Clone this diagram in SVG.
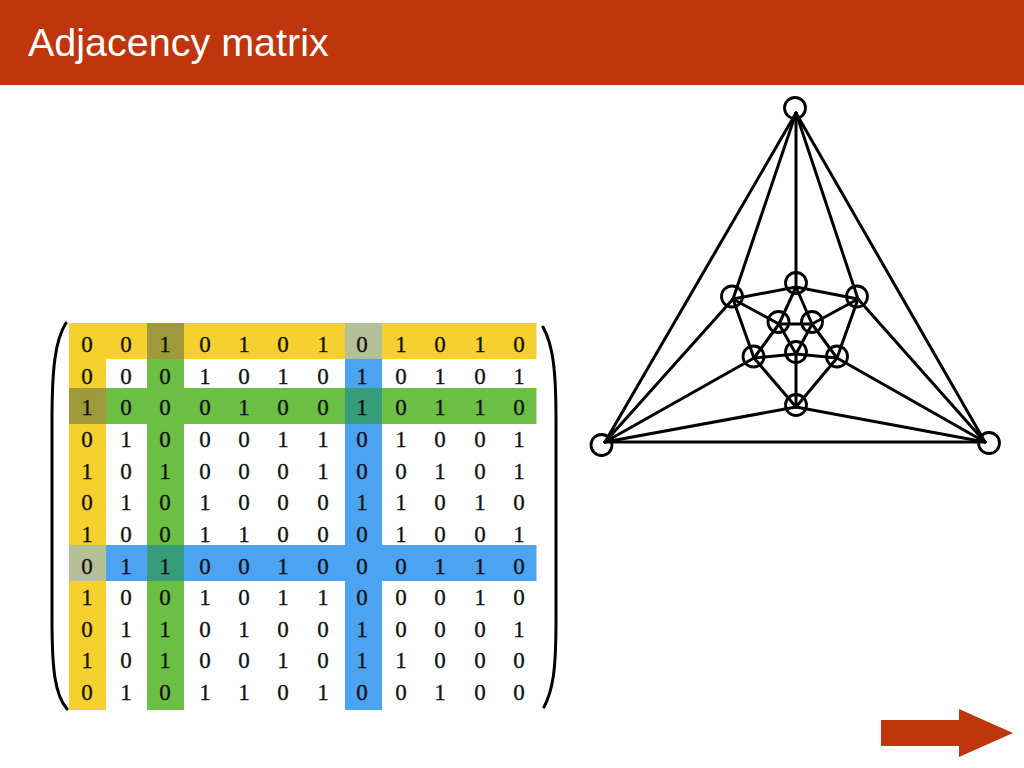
<svg xmlns="http://www.w3.org/2000/svg" width="1024" height="768" viewBox="0 0 1024 768">
<style>
.title{font-family:"Liberation Sans",Arial,sans-serif;font-size:39.5px;fill:#ffffff}
.d{font-family:"Liberation Serif","DejaVu Serif",serif;font-size:23px;fill:#111111;text-anchor:middle;stroke:#111111;stroke-width:0.3}
.paren{fill:none;stroke:#000000;stroke-width:3;stroke-linecap:round}
.edge{stroke:#000000;stroke-width:3;stroke-linecap:round}
.node circle{fill:none;stroke:#000000;stroke-width:2.8}
</style>
<rect width="1024" height="768" fill="#ffffff"/>
<g id="title-bar">
<rect x="0" y="0" width="1024" height="85" fill="#BF360C"/>
<text class="title" x="28" y="56">Adjacency matrix</text>
</g>
<g id="matrix">
<rect x="69" y="323" width="467.5" height="36" fill="#F5D02E"/>
<rect x="69" y="388" width="467.5" height="36" fill="#6BBF44"/>
<rect x="69" y="545" width="467.5" height="36" fill="#4CA3F2"/>
<rect x="69" y="323" width="37" height="387" fill="#F5D02E"/>
<rect x="147" y="323" width="37" height="387" fill="#6BBF44"/>
<rect x="345" y="323" width="37" height="387" fill="#4CA3F2"/>
<rect x="147" y="323" width="37" height="36" fill="#9C9A3A"/>
<rect x="69" y="388" width="37" height="36" fill="#9C9A3A"/>
<rect x="345" y="323" width="37" height="36" fill="#B5BF98"/>
<rect x="69" y="545" width="37" height="36" fill="#B5BF98"/>
<rect x="345" y="388" width="37" height="36" fill="#379C7A"/>
<rect x="147" y="545" width="37" height="36" fill="#379C7A"/>
<path class="paren" d="M66,323 C55,340 52,370 52,420 L52,620 C52,670 55,695 67,709"/>
<path class="paren" d="M543,327 C553,345 556,370 556,420 L556,620 C556,670 553,690 544,707"/>
<text class="d" y="352"><tspan x="87">0</tspan><tspan x="126">0</tspan><tspan x="165">1</tspan><tspan x="205">0</tspan><tspan x="244">1</tspan><tspan x="283">0</tspan><tspan x="323">1</tspan><tspan x="362">0</tspan><tspan x="401">1</tspan><tspan x="440">0</tspan><tspan x="480">1</tspan><tspan x="519">0</tspan></text>
<text class="d" y="384"><tspan x="87">0</tspan><tspan x="126">0</tspan><tspan x="165">0</tspan><tspan x="205">1</tspan><tspan x="244">0</tspan><tspan x="283">1</tspan><tspan x="323">0</tspan><tspan x="362">1</tspan><tspan x="401">0</tspan><tspan x="440">1</tspan><tspan x="480">0</tspan><tspan x="519">1</tspan></text>
<text class="d" y="415"><tspan x="87">1</tspan><tspan x="126">0</tspan><tspan x="165">0</tspan><tspan x="205">0</tspan><tspan x="244">1</tspan><tspan x="283">0</tspan><tspan x="323">0</tspan><tspan x="362">1</tspan><tspan x="401">0</tspan><tspan x="440">1</tspan><tspan x="480">1</tspan><tspan x="519">0</tspan></text>
<text class="d" y="447"><tspan x="87">0</tspan><tspan x="126">1</tspan><tspan x="165">0</tspan><tspan x="205">0</tspan><tspan x="244">0</tspan><tspan x="283">1</tspan><tspan x="323">1</tspan><tspan x="362">0</tspan><tspan x="401">1</tspan><tspan x="440">0</tspan><tspan x="480">0</tspan><tspan x="519">1</tspan></text>
<text class="d" y="479"><tspan x="87">1</tspan><tspan x="126">0</tspan><tspan x="165">1</tspan><tspan x="205">0</tspan><tspan x="244">0</tspan><tspan x="283">0</tspan><tspan x="323">1</tspan><tspan x="362">0</tspan><tspan x="401">0</tspan><tspan x="440">1</tspan><tspan x="480">0</tspan><tspan x="519">1</tspan></text>
<text class="d" y="510"><tspan x="87">0</tspan><tspan x="126">1</tspan><tspan x="165">0</tspan><tspan x="205">1</tspan><tspan x="244">0</tspan><tspan x="283">0</tspan><tspan x="323">0</tspan><tspan x="362">1</tspan><tspan x="401">1</tspan><tspan x="440">0</tspan><tspan x="480">1</tspan><tspan x="519">0</tspan></text>
<text class="d" y="542"><tspan x="87">1</tspan><tspan x="126">0</tspan><tspan x="165">0</tspan><tspan x="205">1</tspan><tspan x="244">1</tspan><tspan x="283">0</tspan><tspan x="323">0</tspan><tspan x="362">0</tspan><tspan x="401">1</tspan><tspan x="440">0</tspan><tspan x="480">0</tspan><tspan x="519">1</tspan></text>
<text class="d" y="574"><tspan x="87">0</tspan><tspan x="126">1</tspan><tspan x="165">1</tspan><tspan x="205">0</tspan><tspan x="244">0</tspan><tspan x="283">1</tspan><tspan x="323">0</tspan><tspan x="362">0</tspan><tspan x="401">0</tspan><tspan x="440">1</tspan><tspan x="480">1</tspan><tspan x="519">0</tspan></text>
<text class="d" y="605"><tspan x="87">1</tspan><tspan x="126">0</tspan><tspan x="165">0</tspan><tspan x="205">1</tspan><tspan x="244">0</tspan><tspan x="283">1</tspan><tspan x="323">1</tspan><tspan x="362">0</tspan><tspan x="401">0</tspan><tspan x="440">0</tspan><tspan x="480">1</tspan><tspan x="519">0</tspan></text>
<text class="d" y="637"><tspan x="87">0</tspan><tspan x="126">1</tspan><tspan x="165">1</tspan><tspan x="205">0</tspan><tspan x="244">1</tspan><tspan x="283">0</tspan><tspan x="323">0</tspan><tspan x="362">1</tspan><tspan x="401">0</tspan><tspan x="440">0</tspan><tspan x="480">0</tspan><tspan x="519">1</tspan></text>
<text class="d" y="668"><tspan x="87">1</tspan><tspan x="126">0</tspan><tspan x="165">1</tspan><tspan x="205">0</tspan><tspan x="244">0</tspan><tspan x="283">1</tspan><tspan x="323">0</tspan><tspan x="362">1</tspan><tspan x="401">1</tspan><tspan x="440">0</tspan><tspan x="480">0</tspan><tspan x="519">0</tspan></text>
<text class="d" y="700"><tspan x="87">0</tspan><tspan x="126">1</tspan><tspan x="165">0</tspan><tspan x="205">1</tspan><tspan x="244">1</tspan><tspan x="283">0</tspan><tspan x="323">1</tspan><tspan x="362">0</tspan><tspan x="401">0</tspan><tspan x="440">1</tspan><tspan x="480">0</tspan><tspan x="519">0</tspan></text>
</g>
<g id="connectors">
<line class="edge" x1="796" y1="113" x2="605" y2="442"/>
<line class="edge" x1="796" y1="113" x2="985" y2="442"/>
<line class="edge" x1="605" y1="442" x2="985" y2="442"/>
<line class="edge" x1="796" y1="113" x2="796" y2="287"/>
<line class="edge" x1="796" y1="113" x2="733" y2="299"/>
<line class="edge" x1="796" y1="113" x2="858" y2="299"/>
<line class="edge" x1="605" y1="442" x2="733" y2="299"/>
<line class="edge" x1="605" y1="442" x2="754" y2="358"/>
<line class="edge" x1="605" y1="442" x2="796" y2="407"/>
<line class="edge" x1="985" y1="442" x2="858" y2="299"/>
<line class="edge" x1="985" y1="442" x2="837" y2="358"/>
<line class="edge" x1="985" y1="442" x2="796" y2="407"/>
<line class="edge" x1="796" y1="287" x2="733" y2="299"/>
<line class="edge" x1="796" y1="287" x2="858" y2="299"/>
<line class="edge" x1="796" y1="287" x2="779" y2="324"/>
<line class="edge" x1="796" y1="287" x2="812" y2="324"/>
<line class="edge" x1="733" y1="299" x2="779" y2="324"/>
<line class="edge" x1="733" y1="299" x2="754" y2="358"/>
<line class="edge" x1="858" y1="299" x2="812" y2="324"/>
<line class="edge" x1="858" y1="299" x2="837" y2="358"/>
<line class="edge" x1="779" y1="324" x2="812" y2="324"/>
<line class="edge" x1="779" y1="324" x2="754" y2="358"/>
<line class="edge" x1="779" y1="324" x2="796" y2="354"/>
<line class="edge" x1="812" y1="324" x2="796" y2="354"/>
<line class="edge" x1="812" y1="324" x2="837" y2="358"/>
<line class="edge" x1="754" y1="358" x2="796" y2="354"/>
<line class="edge" x1="754" y1="358" x2="796" y2="407"/>
<line class="edge" x1="796" y1="354" x2="837" y2="358"/>
<line class="edge" x1="796" y1="354" x2="796" y2="407"/>
<line class="edge" x1="837" y1="358" x2="796" y2="407"/>
</g>
<g id="node-top" class="node"><circle cx="795" cy="108" r="10.5"/></g>
<g id="node-bottom-left" class="node"><circle cx="601.5" cy="445" r="10.5"/></g>
<g id="node-bottom-right" class="node"><circle cx="989" cy="443" r="10.5"/></g>
<g id="node-a" class="node"><circle cx="796" cy="283" r="10.5"/></g>
<g id="node-b" class="node"><circle cx="732" cy="296.5" r="10.5"/></g>
<g id="node-c" class="node"><circle cx="857" cy="296.5" r="10.5"/></g>
<g id="node-d" class="node"><circle cx="778.5" cy="322" r="10.5"/></g>
<g id="node-e" class="node"><circle cx="812" cy="322" r="10.5"/></g>
<g id="node-f" class="node"><circle cx="753.5" cy="356.5" r="10.5"/></g>
<g id="node-g" class="node"><circle cx="796" cy="352" r="10.5"/></g>
<g id="node-h" class="node"><circle cx="837" cy="356.5" r="10.5"/></g>
<g id="node-i" class="node"><circle cx="796" cy="405" r="10.5"/></g>
<g id="next-arrow">
<polygon points="881,720 959,720 959,709 1013,733 959,757 959,746 881,746" fill="#BF360C"/>
</g>
</svg>
